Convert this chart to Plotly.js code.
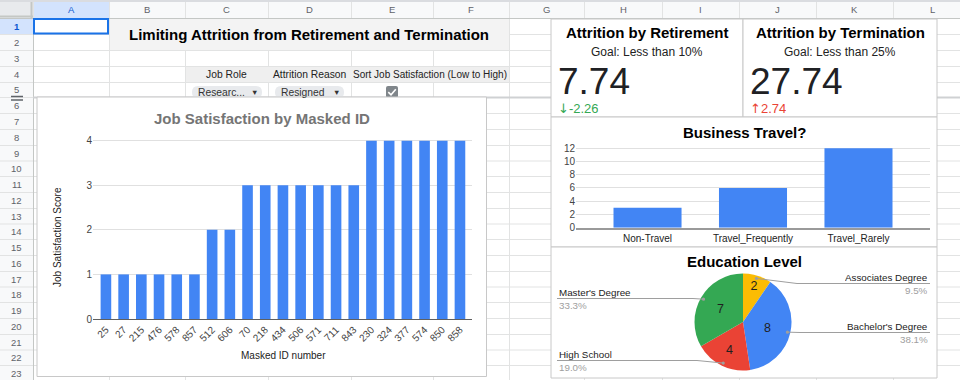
<!DOCTYPE html>
<html><head><meta charset="utf-8">
<script src="https://cdn.plot.ly/plotly-3.0.1.min.js"></script>
<style>html,body{margin:0;padding:0;background:#fff;overflow:hidden}#chart{width:960px;height:380px}</style>
</head><body><div id="chart"></div>
<script>
// ---------------- data ----------------
const maskedIds = ['25','27','215','476','578','857','512','606','70','218','434','506','571','711','843','230','324','377','574','850','858'];
const satisfactionScores = [1,1,1,1,1,1,2,2,3,3,3,3,3,3,3,4,4,4,4,4,4];
const travelCategories = ['Non-Travel','Travel_Frequently','Travel_Rarely'];
const travelCounts = [3,6,12];
const educationLabels = ["Associates Degree","Bachelor's Degree","High School","Master's Degree"];
const educationCounts = [2,8,4,7];
const educationColors = ['#fbbc04','#4285f4','#ea4335','#34a853'];
const scoreTitles = ['Attrition by Retirement','Attrition by Termination'];
const scoreGoals = [10,25];
const scoreValues = [7.74,27.74];
const columnLetters = ['A','B','C','D','E','F','G','H','I','J','K','L'];
const filterLabels = ['Job Role','Attrition Reason','Sort Job Satisfaction (Low to High)'];
const filterValues = ['Researc...','Resigned'];
const dashboardTitle = 'Limiting Attrition from Retirement and Termination';

// ---------------- geometry helpers ----------------
const W = 960, H = 380;
const FONT = 'Arial, "Liberation Sans", sans-serif';
const px = x => x / W;
const py = y => 1 - y / H;
const colB = [0,33,109,185,268,351,433,509,584,662,739,816,893,972];
const rowB = [18,34,50,66,82,97,113,129,145,160.5,176,192,208,223.5,239,255,271,286.5,302,318,334,349.5,365,381];

const shapes = [];
const annotations = [];
function rect(x0,y0,x1,y1,fill,lineColor,lw,layer){
  shapes.push({type:'rect',xref:'paper',yref:'paper',x0:px(x0),x1:px(x1),y0:py(y1),y1:py(y0),
    fillcolor:fill,line:{color:lineColor||'rgba(0,0,0,0)',width:lw||0},layer:layer||'below'});
}
function seg(x0,y0,x1,y1,color,w,layer){
  shapes.push({type:'line',xref:'paper',yref:'paper',x0:px(x0),x1:px(x1),y0:py(y0),y1:py(y1),
    line:{color:color,width:w||1},layer:layer||'below'});
}
function pathPx(pts,fill,lineColor,lw,layer){
  shapes.push({type:'path',xref:'paper',yref:'paper',path:pts,fillcolor:fill,
    line:{color:lineColor||'rgba(0,0,0,0)',width:lw||0},layer:layer||'below'});
}
function roundRect(x0,y0,x1,y1,r){
  const P=(x,y)=>px(x).toFixed(5)+','+py(y).toFixed(5);
  return 'M'+P(x0+r,y0)+' L'+P(x1-r,y0)+' Q'+P(x1,y0)+' '+P(x1,y0+r)+' L'+P(x1,y1-r)+' Q'+P(x1,y1)+' '+P(x1-r,y1)+
    ' L'+P(x0+r,y1)+' Q'+P(x0,y1)+' '+P(x0,y1-r)+' L'+P(x0,y0+r)+' Q'+P(x0,y0)+' '+P(x0+r,y0)+' Z';
}
function ann(text,x,y,o){
  o=o||{};
  const a={text:text,xref:'paper',yref:'paper',x:px(x),y:py(y),showarrow:false,
    xanchor:o.xa||'center',yanchor:o.ya||'middle',textangle:o.angle||0,
    font:{family:FONT,size:o.size||10,color:o.color||'#222',weight:o.weight||'normal'}};
  if(o.h){a.height=o.h;a.valign='middle';}
  annotations.push(a);
}

// ---------------- spreadsheet grid ----------------
const GRID='#e2e3e3';
rect(0,0,W,18,'#f8f9fa');
rect(0,18,33,H,'#f8f9fa');
rect(colB[1],0,colB[2],18,'#d3e3fd');
rect(0,rowB[0],33,rowB[1],'#d3e3fd');
rect(0,0,33,18,'#e8eaed');
for(let i=1;i<colB.length;i++) seg(colB[i]+0.5,0,colB[i]+0.5,H,GRID,1);
for(let j=0;j<rowB.length;j++) seg(0,rowB[j]+0.5,W,rowB[j]+0.5,GRID,1);
seg(0,18.5,W,18.5,'#c4c7c5',1);
seg(33.5,18,33.5,H,'#c4c7c5',1);
seg(31.5,0,31.5,18,'#c4c7c5',2);
seg(0,16.5,33,16.5,'#c4c7c5',2);
seg(0,1,W,1,'#dadce0',2);
// freeze line
seg(33,97.5,W,97.5,'#cfd1d3',2);
seg(11,96.5,23,96.5,'#5f6368',1.5);
seg(11,100,23,100,'#5f6368',1.5);
// header texts
columnLetters.forEach((c,i)=>ann(c,(colB[i+1]+colB[i+2])/2,9.5,{size:9.5,color:i===0?'#0b57d0':'#5f6368'}));
for(let j=0;j<rowB.length-1;j++) ann(String(j+1),16.5,(rowB[j]+rowB[j+1])/2+0.5,{size:9.5,color:j===0?'#0b57d0':'#5f6368',weight:j===0?'bold':'normal'});
// selected cell A1
rect(colB[1]+1,rowB[0]+1,colB[2]-1,rowB[1]-0.5,'rgba(0,0,0,0)','#1a73e8',2);
// title band and filter band
rect(colB[2]+1,rowB[0]+1,colB[7],rowB[2],'#f3f3f3');
rect(colB[3]+1,rowB[3]+1,colB[7],rowB[4],'#efefef');
ann(filterLabels[0],(colB[3]+colB[4])/2,74.5,{size:10.3});
ann(filterLabels[1],(colB[4]+colB[5])/2,74.5,{size:10.3});
ann(filterLabels[2],(colB[5]+colB[7])/2,74.5,{size:10});
// chips
pathPx(roundRect(192,86,262,98.5,6),'#e8eaed');
pathPx(roundRect(275,86,344,98.5,6),'#e8eaed');
ann(filterValues[0],196,92.5,{size:10.3,xa:'left',color:'#333'});
ann(filterValues[1],279,92.5,{size:10.3,xa:'left',color:'#333'});
ann('▼',254,92.5,{size:7.5,color:'#333'});
ann('▼',336,92.5,{size:7.5,color:'#333'});
// checkbox
pathPx(roundRect(386,86,398,98,2),'#80868b');
pathPx('M'+px(388.3)+','+py(92.2)+' L'+px(391)+','+py(94.8)+' L'+px(395.8)+','+py(89.2),'rgba(0,0,0,0)','#ffffff',1.6);

// ---------------- chart boxes ----------------
const BORDER='#c8c8c8';
rect(37,97,486.5,376.5,'#ffffff',BORDER,1);
rect(551,19,743,117,'#ffffff',BORDER,1);
rect(743,19,937,117,'#ffffff',BORDER,1);
rect(551,117,937,247,'#ffffff',BORDER,1);
rect(551,247,937,378,'#ffffff',BORDER,1);

// chart titles and axis titles
ann('Job Satisfaction by Masked ID',262,118,{size:15,weight:'bold',color:'#757575'});
ann('Masked ID number',283,355,{size:10,color:'#222'});
ann('Job Satisfaction Score',57,237,{size:10,color:'#222',angle:-90});
ann('Business Travel?',744,132.5,{size:15,weight:'bold',color:'#000'});
ann('Education Level',744,261.5,{size:15,weight:'bold',color:'#000'});

// ---------------- scorecards ----------------
const cardX = [[551,743],[743,937]];
scoreTitles.forEach((t,i)=>{
  const [a,b]=cardX[i];
  const c=(a+b)/2;
  ann(t,c,32.5,{size:15,weight:'bold',color:'#000'});
  ann('Goal: Less than '+scoreGoals[i]+'%',c,51.5,{size:12,color:'#222',h:14});
  ann(scoreValues[i].toFixed(2),a+5,81,{size:37,xa:'left',color:'#202124',h:32});
  const d=scoreValues[i]-scoreGoals[i];
  const up=d>=0;
  ann('<span style="font-family:DejaVu Sans;font-size:13px">'+(up?'↑':'↓')+'</span>'+d.toFixed(2),a+5,107.5,{size:13,xa:'left',color:up?'#ea4335':'#34a853',h:14});
});

// ---------------- pie leader lines ----------------
const pc={x:743,y:322,r:48.5};
const total=educationCounts.reduce((s,v)=>s+v,0);
const labelLayout=[
  {side:'right',lineY:283.5,elbow:797},
  {side:'right',lineY:332.5,elbow:800},
  {side:'left',lineY:360.5,elbow:697},
  {side:'left',lineY:298.5,elbow:693}
];
let cum=0;
educationCounts.forEach((v,i)=>{
  const mid=(cum+v/2)/total*2*Math.PI; cum+=v;
  const dx=pc.x+0.94*pc.r*Math.sin(mid), dy=pc.y-0.94*pc.r*Math.cos(mid);
  const L=labelLayout[i];
  const edgeX=L.side==='right'?930:557;
  seg(edgeX,L.lineY,L.elbow,L.lineY,'#9e9e9e',1,'above');
  seg(L.elbow,L.lineY,dx,dy,'#9e9e9e',1,'above');
  shapes.push({type:'circle',xref:'paper',yref:'paper',x0:px(dx-1.6),x1:px(dx+1.6),y0:py(dy+1.6),y1:py(dy-1.6),
    fillcolor:'#9e9e9e',line:{width:0},layer:'above'});
  const xa=L.side==='right'?'right':'left';
  ann(educationLabels[i],edgeX,L.lineY-6,{size:9.8,xa:xa,color:'#222',h:11});
  ann((v/total*100).toFixed(1)+'%',edgeX,L.lineY+6.5,{size:9.8,xa:xa,color:'#9e9e9e',h:11});
});

// ---------------- traces ----------------
const traces=[
  {type:'bar',x:maskedIds,y:satisfactionScores,xaxis:'x',yaxis:'y',marker:{color:'#4285f4'},width:0.6,hoverinfo:'skip'},
  {type:'bar',x:travelCategories,y:travelCounts,xaxis:'x2',yaxis:'y2',marker:{color:'#4285f4'},width:0.645,hoverinfo:'skip'},
  {type:'pie',labels:educationLabels,values:educationCounts,sort:false,direction:'clockwise',rotation:0,
   marker:{colors:educationColors,line:{width:0}},textinfo:'value',textposition:'inside',insidetextorientation:'horizontal',
   insidetextfont:{family:FONT,size:12.5,color:'#1f1f1f'},
   domain:{x:[px(694.5),px(791.5)],y:[py(370.5),py(273.5)]},hoverinfo:'skip'}
];

const layout={
  width:W,height:H,margin:{l:0,r:0,t:0,b:0},paper_bgcolor:'#ffffff',plot_bgcolor:'rgba(0,0,0,0)',
  showlegend:false,font:{family:FONT},
  title:{text:dashboardTitle,x:px(309),y:py(34.5),xref:'paper',yref:'paper',xanchor:'center',yanchor:'middle',
    font:{family:FONT,size:15,weight:'bold',color:'#000'}},
  xaxis:{domain:[px(93),px(472)],type:'category',range:[-0.73,20.68],anchor:'y',tickangle:-45,
    tickfont:{family:FONT,size:10,color:'#444'},showgrid:false,showline:true,linecolor:'#5f5f5f',linewidth:1,ticks:'',fixedrange:true},
  yaxis:{domain:[py(319),py(138.4)],range:[0,4.05],dtick:1,anchor:'x',gridcolor:'#e0e0e0',zeroline:false,
    tickfont:{family:FONT,size:10,color:'#444'},ticks:'',fixedrange:true},
  xaxis2:{domain:[px(576),px(930)],type:'category',range:[-0.678,2.678],anchor:'y2',
    tickfont:{family:FONT,size:10,color:'#222'},showgrid:false,showline:true,linecolor:'#9a9a9a',linewidth:2,ticks:'',fixedrange:true},
  yaxis2:{domain:[py(227.7),py(146.9)],range:[0,12.2],dtick:2,anchor:'x2',gridcolor:'#e0e0e0',zeroline:false,
    tickfont:{family:FONT,size:10,color:'#444'},ticks:'',fixedrange:true},
  shapes:shapes,annotations:annotations
};
Plotly.newPlot('chart',traces,layout,{staticPlot:true,displayModeBar:false});
</script></body></html>
